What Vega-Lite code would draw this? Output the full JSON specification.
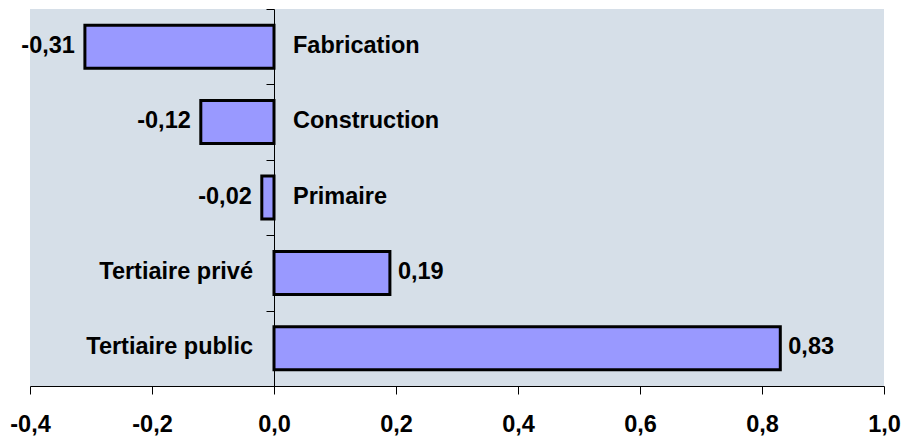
{
  "$schema": "https://vega.github.io/schema/vega-lite/v6.json",
  "width": 854,
  "height": 377,
  "autosize": {"type": "none"},
  "padding": {"left": 30, "top": 9, "right": 17, "bottom": 50},
  "background": "white",
  "config": {
    "view": {"fill": "#d6dfe8", "stroke": null},
    "font": "Liberation Sans",
    "locale": {"number": {"decimal": ",", "thousands": " ", "grouping": [3], "currency": ["", " €"], "minus": "-"}}
  },
  "data": {
    "values": [
      {"secteur": "Fabrication", "valeur": -0.31},
      {"secteur": "Construction", "valeur": -0.12},
      {"secteur": "Primaire", "valeur": -0.02},
      {"secteur": "Tertiaire privé", "valeur": 0.19},
      {"secteur": "Tertiaire public", "valeur": 0.83}
    ]
  },
  "encoding": {
    "y": {
      "field": "secteur",
      "type": "nominal",
      "sort": null,
      "scale": {"paddingInner": 0, "paddingOuter": 0},
      "axis": {
        "title": null,
        "labels": false,
        "grid": false,
        "domainColor": "black",
        "domainWidth": 1,
        "tickColor": "black",
        "tickSize": 8,
        "tickBand": "extent",
        "offset": -244
      }
    }
  },
  "layer": [
    {
      "mark": {"type": "bar", "fill": "#9999ff", "stroke": "black", "strokeWidth": 3, "height": {"band": 0.57}},
      "encoding": {
        "x": {
          "field": "valeur",
          "type": "quantitative",
          "scale": {"domain": [-0.4, 1.0], "nice": false, "zero": false},
          "axis": {
            "title": null,
            "values": [-0.4, -0.2, 0, 0.2, 0.4, 0.6, 0.8, 1.0],
            "format": ".1f",
            "grid": false,
            "labelFlush": false,
            "labelOverlap": false,
            "labelFont": "Liberation Sans",
            "labelFontSize": 23.5,
            "labelFontWeight": "bold",
            "labelColor": "black",
            "labelPadding": 18,
            "tickSize": 8,
            "tickColor": "black",
            "domainColor": "black",
            "domainWidth": 1
          }
        }
      }
    },
    {
      "transform": [{"filter": "datum.valeur < 0"}],
      "mark": {"type": "text", "align": "right", "baseline": "middle", "dx": -10, "dy": -1, "fontSize": 23.5, "fontWeight": "bold", "color": "black"},
      "encoding": {
        "x": {"field": "valeur", "type": "quantitative"},
        "text": {"field": "valeur", "type": "quantitative", "format": ".2f"}
      }
    },
    {
      "transform": [{"filter": "datum.valeur >= 0"}],
      "mark": {"type": "text", "align": "left", "baseline": "middle", "dx": 8, "dy": -1, "fontSize": 23.5, "fontWeight": "bold", "color": "black"},
      "encoding": {
        "x": {"field": "valeur", "type": "quantitative"},
        "text": {"field": "valeur", "type": "quantitative", "format": ".2f"}
      }
    },
    {
      "transform": [{"filter": "datum.valeur < 0"}],
      "mark": {"type": "text", "align": "left", "baseline": "middle", "dx": 19, "dy": -1, "fontSize": 23.5, "fontWeight": "bold", "color": "black"},
      "encoding": {
        "x": {"datum": 0, "type": "quantitative"},
        "text": {"field": "secteur", "type": "nominal"}
      }
    },
    {
      "transform": [{"filter": "datum.valeur >= 0"}],
      "mark": {"type": "text", "align": "right", "baseline": "middle", "dx": -21, "dy": -1, "fontSize": 23.5, "fontWeight": "bold", "color": "black"},
      "encoding": {
        "x": {"datum": 0, "type": "quantitative"},
        "text": {"field": "secteur", "type": "nominal"}
      }
    }
  ]
}
